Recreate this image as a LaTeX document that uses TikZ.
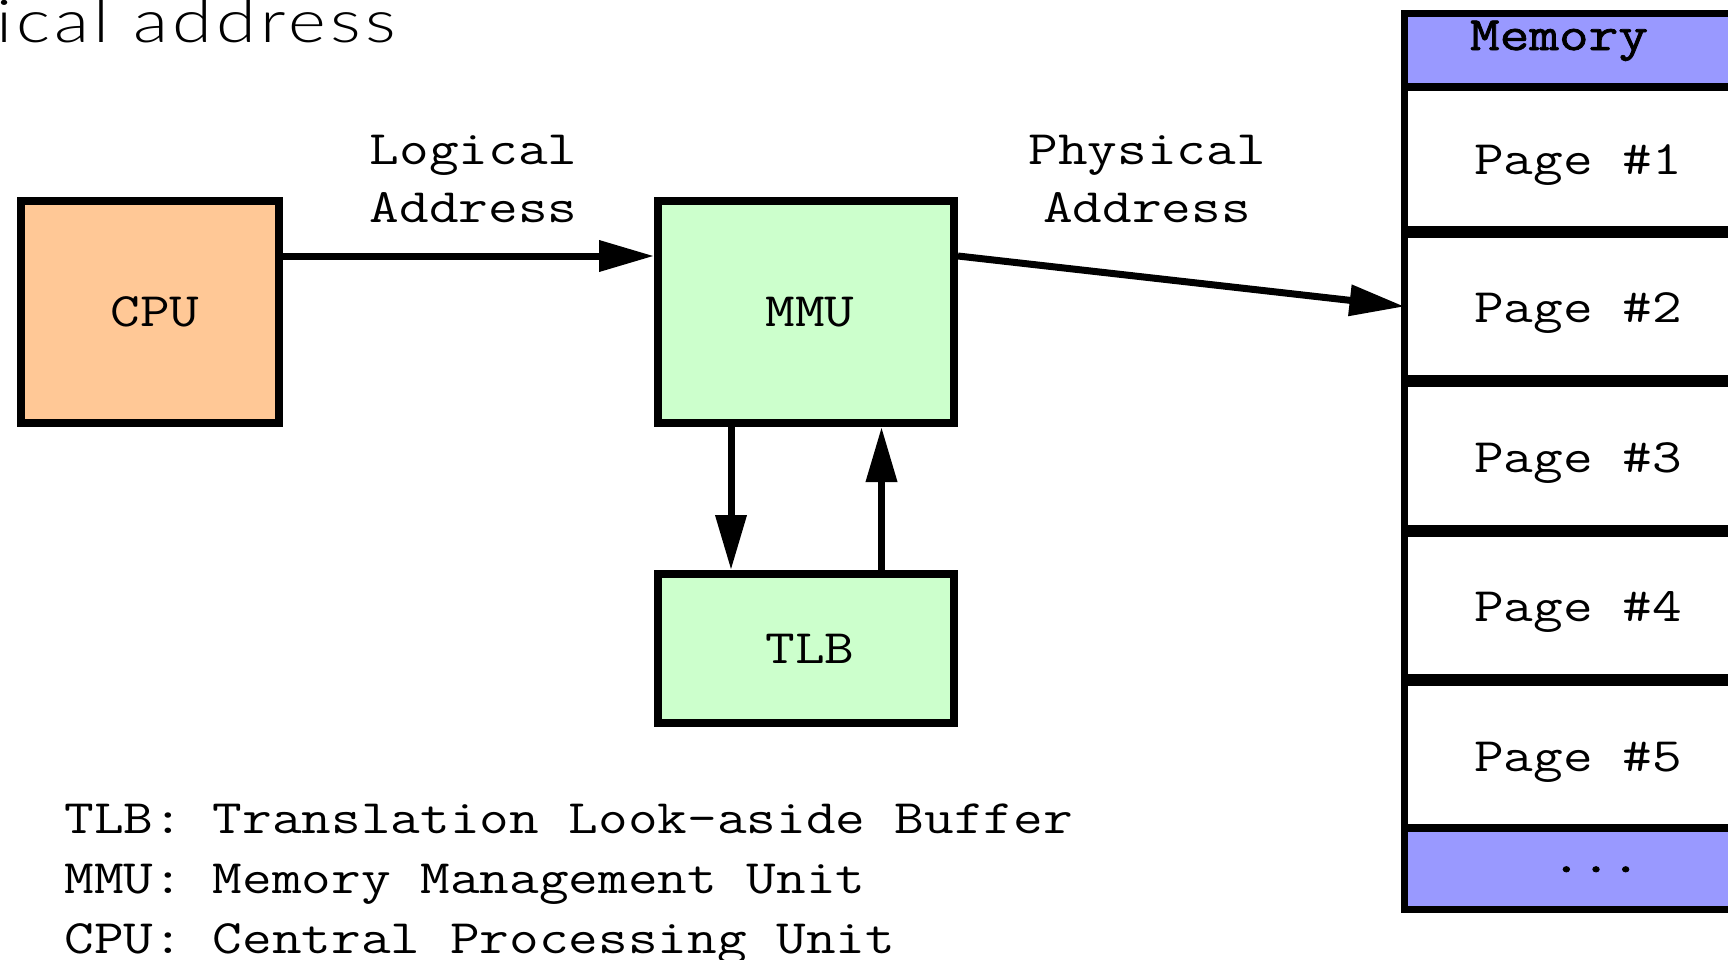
\documentclass[tikz,border=0pt]{standalone}
\usepackage{fontspec}
\setmonofont{Latin Modern Mono}[FakeStretch=1.2]
\newfontfamily\boldmono{Latin Modern Mono}[FakeStretch=1.2,FakeBold=1.6]
\newfontfamily\headfont{Lato Light}[FakeStretch=1.22,LetterSpace=7]
\usetikzlibrary{arrows.meta}
\definecolor{cpufill}{HTML}{FFC896}
\definecolor{unitfill}{HTML}{CCFFCC}
\definecolor{memfill}{HTML}{9999FF}
\tikzset{
  unit/.style={draw=black, line width=4pt, inner sep=0pt},
  link/.style={line width=3.5pt, -{Triangle[length=27.5pt,width=15pt]}},
  mono/.style={font=\ttfamily\fontsize{24pt}{29pt}\selectfont, inner sep=0pt},
  memrow/.style={inner sep=0pt, outer sep=0pt, minimum width=192.75pt},
  thinsep/.style={line width=4pt},
  thicksep/.style={line width=6pt},
}
\begin{document}
\begin{tikzpicture}[x=0.5pt,y=-0.5pt]
\useasboundingbox (0,0) rectangle (1728,959);

% heading, running off the left edge
\node[anchor=base west, inner sep=0pt, font=\headfont\fontsize{29.6pt}{34pt}\selectfont]
  (head) at (-4,42) {ical address};

% processing units
\node[unit, fill=cpufill, minimum width=129.25pt, minimum height=111pt] (cpu) at (149.75,312) {};
\node[unit, fill=unitfill, minimum width=148pt, minimum height=111pt] (mmu) at (806,312) {};
\node[unit, fill=unitfill, minimum width=148pt, minimum height=74.25pt] (tlb) at (806,648.25) {};
\node[mono, anchor=base] (cputxt) at (155,326) {CPU};
\node[mono, anchor=base] (mmutxt) at (810,326) {MMU};
\node[mono, anchor=base] (tlbtxt) at (810,663) {TLB};

% memory column: rows first, then frame and separators
\node[memrow, fill=memfill, minimum height=37pt]   (mhead) at (1597.25,50) {};
\node[memrow, fill=white,   minimum height=72.5pt] (p1) at (1597.25,159.5) {};
\node[memrow, fill=white,   minimum height=74.5pt] (p2) at (1597.25,306.5) {};
\node[memrow, fill=white,   minimum height=75pt]   (p3) at (1597.25,456) {};
\node[memrow, fill=white,   minimum height=74.5pt] (p4) at (1597.25,605.5) {};
\node[memrow, fill=white,   minimum height=73.75pt](p5) at (1597.25,753.75) {};
\node[memrow, fill=memfill, minimum height=41pt]   (mdots) at (1597.25,868.5) {};
\node[draw=black, line width=3.5pt, inner sep=0pt, outer sep=0pt,
      minimum width=192.75pt, minimum height=448.25pt] (mem) at (1597.25,461.25) {};
\draw[thinsep]  (p1.north west) -- (p1.north east);
\draw[thicksep] (p2.north west) -- (p2.north east);
\draw[thicksep] (p3.north west) -- (p3.north east);
\draw[thicksep] (p4.north west) -- (p4.north east);
\draw[thicksep] (p5.north west) -- (p5.north east);
\draw[thinsep]  (mdots.north west) -- (mdots.north east);

\node[mono, anchor=base, font=\boldmono\fontsize{24pt}{29pt}\selectfont] (memtxt) at (1559,50) {Memory};
\node[mono, anchor=base] (p1txt) at (1578,174) {Page \#1};
\node[mono, anchor=base] (p2txt) at (1578,322.5) {Page \#2};
\node[mono, anchor=base] (p3txt) at (1578,472) {Page \#3};
\node[mono, anchor=base] (p4txt) at (1578,621) {Page \#4};
\node[mono, anchor=base] (p5txt) at (1578,771) {Page \#5};
\node[mono, anchor=base, font=\boldmono\fontsize{24pt}{29pt}\selectfont] (dotstxt) at (1596,872) {...};

% connectors
\coordinate (lane) at (0,256);
\coordinate (down) at (731,0);
\coordinate (up) at (881.5,0);
\draw[link] (cpu.east |- lane) -- (mmu.west |- lane);
\draw[link] (mmu.east |- lane) -- (p2.west);
\draw[link] (mmu.south -| down) -- (tlb.north -| down);
\draw[link] (tlb.north -| up) -- (mmu.south -| up);

% connector labels (base anchor sits on the last line)
\node[mono, align=center, anchor=base] (logl) at (473.5,222) {Logical\\Address};
\node[mono, align=center, anchor=base] (phyl) at (1147,222) {Physical\\Address};

% legend
\node[mono, align=left, anchor=base west, font=\ttfamily\fontsize{24pt}{30pt}\selectfont]
  (legend) at (64,953.5) {TLB: Translation Look-aside Buffer\\MMU: Memory Management Unit\\CPU: Central Processing Unit};
\end{tikzpicture}
\end{document}
